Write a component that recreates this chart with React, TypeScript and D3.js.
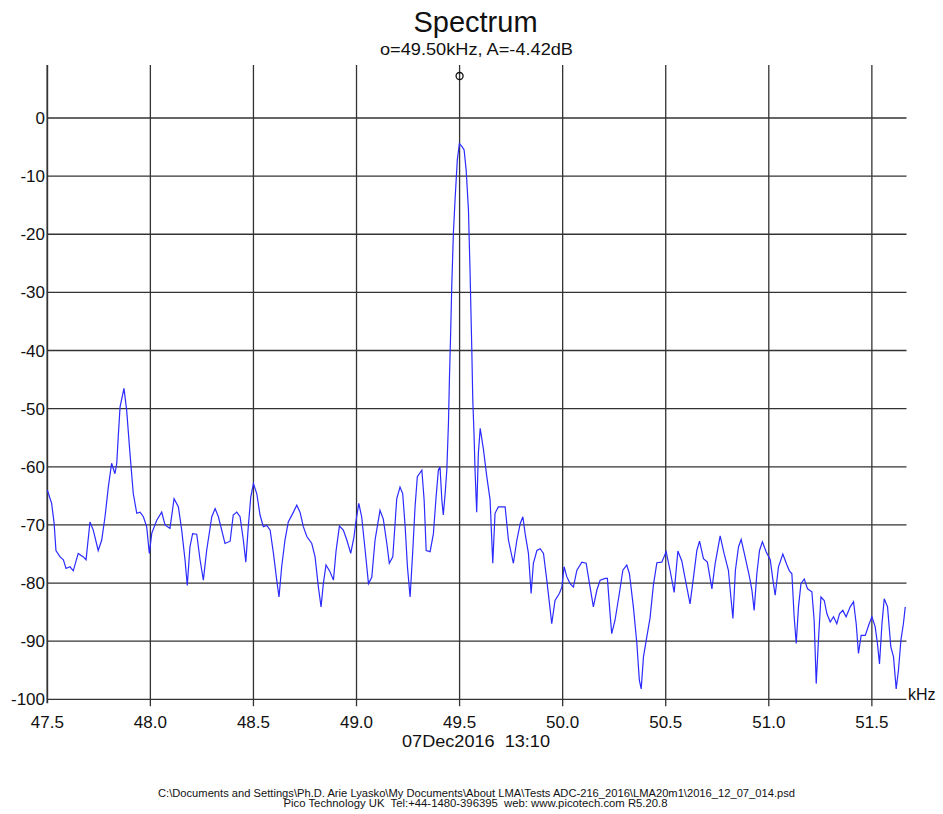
import React from "react";
import * as d3 from "d3";

// Frequency (kHz) of each sample of the spectrum trace
const freqs: number[] = [
  47.500, 47.521, 47.533, 47.542, 47.562, 47.578, 47.591, 47.610, 47.626, 47.650,
  47.675, 47.688, 47.707, 47.723, 47.747, 47.764, 47.780, 47.796, 47.812, 47.828,
  47.837, 47.844, 47.853, 47.872, 47.885, 47.901, 47.917, 47.934, 47.950, 47.966,
  47.982, 47.995, 48.007, 48.031, 48.055, 48.071, 48.095, 48.115, 48.136, 48.152,
  48.168, 48.179, 48.192, 48.205, 48.225, 48.241, 48.257, 48.273, 48.298, 48.314,
  48.330, 48.362, 48.387, 48.402, 48.419, 48.435, 48.451, 48.463, 48.475, 48.487,
  48.500, 48.516, 48.532, 48.548, 48.565, 48.581, 48.597, 48.613, 48.624, 48.637,
  48.653, 48.669, 48.694, 48.710, 48.726, 48.742, 48.759, 48.783, 48.799, 48.815,
  48.828, 48.839, 48.852, 48.872, 48.888, 48.901, 48.917, 48.936, 48.953, 48.972,
  48.988, 48.998, 49.011, 49.025, 49.042, 49.058, 49.074, 49.090, 49.114, 49.130,
  49.147, 49.159, 49.176, 49.187, 49.195, 49.211, 49.224, 49.236, 49.247, 49.260,
  49.273, 49.284, 49.295, 49.317, 49.328, 49.338, 49.357, 49.373, 49.386, 49.397,
  49.405, 49.414, 49.421, 49.430, 49.438, 49.446, 49.451, 49.457, 49.462, 49.470,
  49.478, 49.489, 49.499, 49.511, 49.522, 49.532, 49.543, 49.551, 49.559, 49.564,
  49.570, 49.575, 49.583, 49.591, 49.600, 49.616, 49.632, 49.648, 49.661, 49.672,
  49.688, 49.721, 49.737, 49.761, 49.778, 49.794, 49.807, 49.818, 49.834, 49.847,
  49.858, 49.875, 49.891, 49.907, 49.923, 49.936, 49.947, 49.963, 49.984, 49.996,
  50.007, 50.020, 50.036, 50.052, 50.069, 50.093, 50.114, 50.133, 50.149, 50.166,
  50.182, 50.206, 50.217, 50.230, 50.238, 50.254, 50.275, 50.292, 50.311, 50.324,
  50.343, 50.360, 50.372, 50.381, 50.392, 50.408, 50.424, 50.440, 50.457, 50.481,
  50.502, 50.521, 50.541, 50.559, 50.578, 50.594, 50.618, 50.634, 50.651, 50.664,
  50.683, 50.702, 50.724, 50.740, 50.764, 50.783, 50.804, 50.816, 50.826, 50.838,
  50.853, 50.866, 50.885, 50.906, 50.918, 50.929, 50.942, 50.955, 50.969, 50.987,
  51.007, 51.020, 51.031, 51.047, 51.068, 51.088, 51.100, 51.112, 51.123, 51.133,
  51.144, 51.156, 51.172, 51.188, 51.209, 51.220, 51.230, 51.241, 51.253, 51.269,
  51.282, 51.298, 51.314, 51.330, 51.343, 51.359, 51.375, 51.395, 51.411, 51.424,
  51.435, 51.448, 51.468, 51.484, 51.500, 51.516, 51.527, 51.537, 51.549, 51.560,
  51.576, 51.592, 51.605, 51.618, 51.629, 51.641, 51.653, 51.662,
];

// Amplitude (dB) of each sample
const levels: number[] = [
  -64.0, -66.3, -69.7, -74.4, -75.5, -76.0, -77.5, -77.2, -77.9, -74.9,
  -75.5, -76.0, -69.5, -70.9, -74.4, -72.6, -68.6, -63.5, -59.4, -61.2,
  -59.4, -54.9, -49.7, -46.5, -50.3, -57.7, -64.6, -68.0, -67.8, -68.6,
  -70.3, -74.9, -71.4, -69.2, -67.8, -70.0, -70.6, -65.5, -66.9, -70.9,
  -76.0, -80.4, -73.8, -71.5, -71.6, -76.0, -79.5, -74.4, -68.6, -67.2,
  -68.6, -73.2, -72.8, -68.3, -67.8, -68.6, -72.6, -76.4, -70.3, -65.2,
  -62.9, -64.6, -68.3, -70.3, -70.1, -70.9, -74.9, -79.5, -82.4, -77.2,
  -72.6, -69.5, -67.8, -66.6, -67.8, -70.3, -72.0, -73.2, -75.5, -80.7,
  -84.1, -80.1, -76.9, -78.1, -79.5, -74.4, -70.2, -70.9, -72.6, -74.9,
  -72.0, -69.2, -66.3, -68.6, -74.4, -80.1, -79.0, -72.6, -67.5, -69.0,
  -73.2, -76.6, -75.5, -69.8, -65.5, -63.5, -64.6, -70.3, -77.2, -82.4,
  -74.4, -66.9, -61.7, -60.6, -65.7, -74.4, -74.6, -71.5, -65.2, -60.6,
  -60.0, -65.7, -68.3, -64.6, -60.6, -52.5, -44.5, -36.5, -29.0, -19.8,
  -14.1, -7.2, -4.4, -4.9, -5.5, -9.0, -15.8, -26.7, -39.4, -48.5,
  -54.3, -60.6, -67.8, -57.7, -53.4, -57.1, -61.7, -65.7, -76.6, -68.0,
  -66.9, -66.9, -72.6, -76.6, -72.6, -69.8, -68.6, -71.5, -74.9, -81.8,
  -76.6, -74.4, -74.1, -74.9, -79.5, -83.5, -87.0, -83.0, -81.8, -80.7,
  -77.2, -78.9, -80.1, -80.7, -77.8, -76.4, -76.6, -80.7, -84.1, -81.2,
  -79.5, -79.2, -79.2, -85.3, -88.7, -86.4, -81.8, -77.8, -76.9, -78.4,
  -84.1, -90.4, -96.7, -98.2, -92.7, -89.3, -86.0, -80.4, -76.5, -76.4,
  -74.6, -77.8, -81.6, -74.5, -76.2, -79.2, -83.6, -79.2, -74.4, -72.8,
  -75.8, -76.4, -81.0, -76.6, -71.9, -74.9, -77.8, -82.4, -86.1, -77.8,
  -73.8, -72.5, -75.5, -78.9, -81.2, -84.7, -78.4, -74.4, -72.9, -74.6,
  -76.0, -79.5, -82.1, -77.2, -75.0, -76.9, -77.9, -78.4, -85.8, -90.4,
  -84.1, -80.1, -79.3, -81.0, -81.5, -86.4, -97.3, -89.8, -82.4, -83.0,
  -85.3, -86.7, -85.8, -87.0, -85.3, -84.7, -85.8, -84.1, -83.2, -87.0,
  -92.1, -89.0, -89.0, -87.3, -85.8, -87.5, -90.4, -93.9, -87.0, -82.7,
  -84.1, -91.0, -92.7, -98.2, -95.0, -89.8, -87.0, -84.1,
];

const xTicks: number[] = [47.5, 48.0, 48.5, 49.0, 49.5, 50.0, 50.5, 51.0, 51.5];
const yTicks: number[] = [0, -10, -20, -30, -40, -50, -60, -70, -80, -90, -100];

const title = "Spectrum";
const markerFreq = 49.5;
const subtitle = "o=49.50kHz, A=-4.42dB";
const xUnit = "kHz";
const stamp = "07Dec2016\u00a0\u00a013:10";
const footer1 =
  "C:\\Documents and Settings\\Ph.D. Arie Lyasko\\My Documents\\About LMA\\Tests ADC-216_2016\\LMA20m1\\2016_12_07_014.psd";
const footer2 = "Pico Technology UK  Tel:+44-1480-396395  web: www.picotech.com R5.20.8";

const FONT = "'Liberation Sans', Arial, Helvetica, sans-serif";

export default function App() {
  const W = 943;
  const H = 814;
  const left = 47.3;
  const right = 906.5;
  const top = 65;
  const x = d3.scaleLinear().domain([47.5, 51.668]).range([left, right]);
  const y = d3.scaleLinear().domain([0, -100]).range([118, 699.3]);

  const pts: [number, number][] = freqs.map((f, i) => [f, levels[i]]);
  const line = d3
    .line<[number, number]>()
    .x((d) => x(d[0]))
    .y((d) => y(d[1]));

  const gridColor = "#333";

  return (
    <svg
      width={W}
      height={H}
      style={{ position: "absolute", left: 0, top: 0, background: "#fff" }}
      fontFamily={FONT}
    >
      <rect x={0} y={0} width={W} height={H} fill="#fff" />
      {/* horizontal grid */}
      {yTicks.map((t) => (
        <line
          key={"h" + t}
          x1={left}
          x2={right}
          y1={y(t)}
          y2={y(t)}
          stroke={gridColor}
          strokeWidth={1.3}
        />
      ))}
      {/* vertical grid */}
      {xTicks.map((t, i) => (
        <line
          key={"v" + t}
          x1={x(t)}
          x2={x(t)}
          y1={top}
          y2={i === 0 ? y(-100) + 4 : y(-100) + 7}
          stroke={gridColor}
          strokeWidth={i === 0 ? 1.8 : 1.3}
        />
      ))}
      {/* y tick labels */}
      {yTicks.map((t) => (
        <text
          key={"yl" + t}
          x={45}
          y={y(t) + 6}
          textAnchor="end"
          fontSize={17}
          fill="#111"
        >
          {t}
        </text>
      ))}
      {/* x tick labels */}
      {xTicks.map((t) => (
        <text
          key={"xl" + t}
          x={x(t)}
          y={728}
          textAnchor="middle"
          fontSize={17}
          fill="#111"
        >
          {t.toFixed(1)}
        </text>
      ))}
      <text x={908} y={700} fontSize={16} fill="#111">
        {xUnit}
      </text>
      {/* spectrum trace */}
      <path d={line(pts) || ""} fill="none" stroke="#2b2bff" strokeWidth={1.2} />
      {/* marker */}
      <circle cx={x(markerFreq)} cy={76} r={3.5} fill="none" stroke="#111" strokeWidth={1.3} />
      {/* titles */}
      <text x={475.5} y={32} textAnchor="middle" fontSize={29} fill="#111">
        {title}
      </text>
      <text
        x={476.5}
        y={55}
        textAnchor="middle"
        fontSize={17}
        fill="#111"
        textLength={193}
        lengthAdjust="spacingAndGlyphs"
      >
        {subtitle}
      </text>
      <text
        x={476}
        y={747}
        textAnchor="middle"
        fontSize={17}
        fill="#111"
        textLength={148}
        lengthAdjust="spacingAndGlyphs"
      >
        {stamp}
      </text>
      <text
        x={476.5}
        y={797}
        textAnchor="middle"
        fontSize={10}
        fill="#111"
        textLength={637}
        lengthAdjust="spacingAndGlyphs"
      >
        {footer1}
      </text>
      <text
        x={475.5}
        y={807}
        textAnchor="middle"
        fontSize={10}
        fill="#111"
        textLength={384}
        lengthAdjust="spacingAndGlyphs"
        style={{ whiteSpace: "pre" }}
      >
        {footer2}
      </text>
    </svg>
  );
}
